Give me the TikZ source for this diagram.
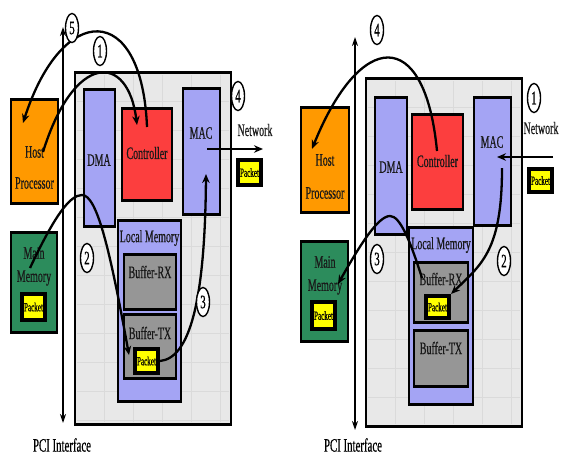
\documentclass[tikz,border=0pt]{standalone}
\usepackage{fontspec}
\setmainfont[FakeStretch=0.57,FakeBold=0.5]{Liberation Serif}
\usetikzlibrary{arrows.meta,shapes.geometric,fit}

\definecolor{lav}{RGB}{164,164,244}
\definecolor{ctrl}{RGB}{252,62,62}
\definecolor{host}{RGB}{255,153,0}
\definecolor{mem}{RGB}{44,140,92}
\definecolor{buf}{RGB}{150,150,150}
\definecolor{pkt}{RGB}{255,255,0}
\definecolor{board}{RGB}{232,232,232}
\definecolor{gridc}{RGB}{218,218,218}

\tikzset{
  blk/.style={draw=black, line width=1.8pt, inner sep=0pt,
    path picture={
      \fill[black] (path picture bounding box.north west) rectangle ([yshift=-2.2pt]path picture bounding box.north east);
      \fill[black] (path picture bounding box.south west) rectangle ([yshift=2.2pt]path picture bounding box.south east);}},
  boardbox/.style={blk, fill=board, line width=2.6pt},
  gridln/.style={draw=gridc, line width=0.6pt},
  lab/.style={inner sep=0pt, text=black!90, font=\fontsize{17.5}{18}\selectfont},
  pcilab/.style={inner sep=0pt, font=\fontsize{19}{20}\selectfont},
  pktbox/.style={draw=black, fill=pkt, line width=3.6pt, inner sep=0pt,
    font=\fontsize{12.5}{13}\selectfont},
  num/.style={ellipse, draw=black, line width=1.4pt, fill=white, inner sep=0pt,
    minimum width=13pt, minimum height=29pt, font=\fontsize{19}{20}\selectfont},
  flow/.style={line width=2.3pt, -{Stealth[length=9pt,width=7.5pt]}},
  pci/.style={line width=2.6pt, {Stealth[length=9pt,width=6pt]}-{Stealth[length=9pt,width=6pt]}}
}

\begin{document}
\begin{tikzpicture}[x=1pt,y=-1pt]
\useasboundingbox (0,0) rectangle (561,456);

% ---------------- transmit path ----------------
\node[boardbox, fit={(75,72) (231,425)}] (brdL) {};
\foreach \gx in {104,133,162,191,220} \draw[gridln] (\gx,75) -- (\gx,422);
\foreach \gy in {101,130,...,420} \draw[gridln] (77,\gy) -- (229,\gy);

\coordinate (pciLt) at (63,27);
\coordinate (pciLb) at (63,423);
\draw[pci] (pciLt) -- (pciLb);

\node[blk, fill=lav, fit={(84,89) (115,227)}] (dmaL) {};
\node[lab] (dmaLt) at (99,160) {DMA};
\node[blk, fill=ctrl, fit={(122,108) (172,201)}] (ctrlL) {};
\node[lab] (ctrlLt) at (147,153) {Controller};
\node[blk, fill=lav, fit={(183,88) (220,215)}] (macL) {};
\node[lab] (macLt) at (201,133) {MAC};

\node[blk, fill=lav, fit={(118,220) (181,402)}] (lmL) {};
\node[lab] (lmLt) at (149.5,238) {Local Memory};
\node[blk, fill=buf, fit={(124,254) (176,310)}] (rxL) {};
\node[lab] (rxLt) at (150,272) {Buffer-RX};
\node[blk, fill=buf, fit={(124,314) (176,379)}] (txL) {};
\node[lab] (txLt) at (150,333) {Buffer-TX};
\node[pktbox, minimum width=23.5pt, minimum height=24.5pt] (pktTx) at (146.5,361) {Packet};

\node[blk, fill=host, fit={(11,99) (58,204)}] (hostL) {};
\node[lab] (hostLa) at (34.5,152) {Host};
\node[lab] (hostLb) at (34.5,183) {Processor};
\node[blk, fill=mem, fit={(11,232) (57,333)}] (mmL) {};
\node[lab] (mmLa) at (34,253) {Main};
\node[lab] (mmLb) at (34,278) {Memory};
\node[pktbox, minimum width=23.5pt, minimum height=26.5pt] (pktMmL) at (33.5,307) {Packet};

\node[lab] (netL) at (255,130) {Network};
\node[pktbox, minimum width=23.5pt, minimum height=25.5pt] (pktNetL) at (249.5,172.5) {Packet};
\node[pcilab] (pciL) at (62,445) {PCI Interface};

% flows
\coordinate (a1s) at (43,152);
\coordinate (a1e) at (137,125);
\draw[flow] (a1s) .. controls (74,52) and (128,52) .. (a1e);
\coordinate (a2s) at (147,127);
\coordinate (a2e) at (23,123);
\draw[flow] (a2s) .. controls (142,0) and (62,2) .. (a2e);
\coordinate (a3s) at (30,268);
\coordinate (a3m) at (82,195);
\coordinate (a3e) at (129,355);
\draw[flow] (a3s) .. controls (55,215) and (70,195) .. (a3m)
                  .. controls (97,195) and (110,250) .. (a3e);
\coordinate (a4e) at (206,174);
\draw[flow] (pktTx.east) .. controls (190,358) and (205,300) .. (a4e);
\coordinate (a5s) at (207,149);
\coordinate (a5e) at (263,149);
\draw[flow] (a5s) -- (a5e);

\node[num] (n5L) at (72,28) {5};
\node[num] (n1L) at (100,51) {1};
\node[num] (n4L) at (238,96) {4};
\node[num] (n2L) at (87,258) {2};
\node[num] (n3L) at (203,302) {3};

% ---------------- receive path ----------------
\node[boardbox, fit={(366,78) (522,427)}] (brdR) {};
\foreach \gx in {395,424,453,482,511} \draw[gridln] (\gx,81) -- (\gx,424);
\foreach \gy in {107,136,...,420} \draw[gridln] (368,\gy) -- (520,\gy);

\coordinate (pciRt) at (355,37);
\coordinate (pciRb) at (355,430);
\draw[pci] (pciRt) -- (pciRb);

\node[blk, fill=lav, fit={(375,97) (407,235)}] (dmaR) {};
\node[lab] (dmaRt) at (391,167) {DMA};
\node[blk, fill=ctrl, fit={(412,114) (463,210)}] (ctrlR) {};
\node[lab] (ctrlRt) at (437.5,161) {Controller};
\node[blk, fill=lav, fit={(474,97) (511,226)}] (macR) {};
\node[lab] (macRt) at (492,142) {MAC};

\node[blk, fill=lav, fit={(409,227) (473,405)}] (lmR) {};
\node[lab] (lmRt) at (441,245) {Local Memory};
\node[blk, fill=buf, fit={(414,262) (468,323)}] (rxR) {};
\node[lab] (rxRt) at (441,279) {Buffer-RX};
\node[pktbox, minimum width=23.5pt, minimum height=22.5pt] (pktRx) at (437.5,307) {Packet};
\node[blk, fill=buf, fit={(414,330) (468,387)}] (txR) {};
\node[lab] (txRt) at (441,348) {Buffer-TX};

\node[blk, fill=host, fit={(301,107) (349,213)}] (hostR) {};
\node[lab] (hostRa) at (325,160) {Host};
\node[lab] (hostRb) at (325,193) {Processor};
\node[blk, fill=mem, fit={(301,241) (348,342)}] (mmR) {};
\node[lab] (mmRa) at (325,262) {Main};
\node[lab] (mmRb) at (325,287) {Memory};
\node[pktbox, minimum width=23.5pt, minimum height=27.5pt] (pktMmR) at (323.5,315.5) {Packet};

\node[lab] (netR) at (541,128) {Network};
\node[pktbox, minimum width=23.5pt, minimum height=23.5pt] (pktNetR) at (540.5,180.5) {Packet};
\node[pcilab] (pciR) at (353,445) {PCI Interface};

% flows
\coordinate (b1s) at (553,157);
\coordinate (b1e) at (497,157);
\draw[flow] (b1s) -- (b1e);
\coordinate (b2s) at (502,168);
\draw[flow] (b2s) .. controls (502,250) and (482,264) .. (pktRx.north east);
\coordinate (b3s) at (422,278);
\coordinate (b3m) at (390,216);
\coordinate (b3e) at (338,284);
\draw[flow] (b3s) .. controls (410,240) and (400,216) .. (b3m)
                  .. controls (378,216) and (360,245) .. (b3e);
\coordinate (b4s) at (437,151);
\coordinate (b4e) at (312,149);
\draw[flow] (b4s) .. controls (425,25) and (360,30) .. (b4e);

\node[num] (n4R) at (377,30) {4};
\node[num] (n1R) at (534,98) {1};
\node[num] (n3R) at (377,259) {3};
\node[num] (n2R) at (504,261) {2};
\end{tikzpicture}
\end{document}
